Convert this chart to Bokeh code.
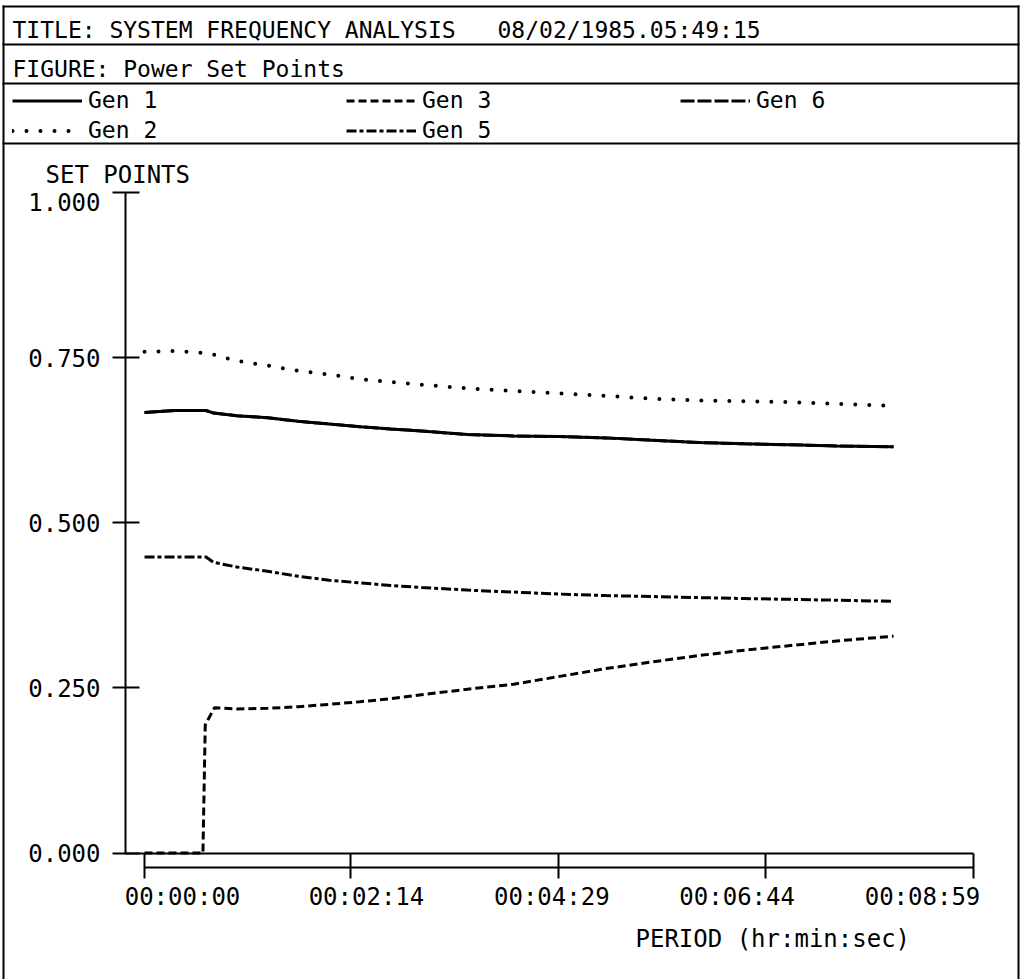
from bokeh.plotting import figure
from bokeh.models import (Range1d, LinearAxis, FixedTicker, Label, BoxAnnotation,
                          Legend, LegendItem)
from bokeh.embed import file_html
from bokeh.resources import INLINE

# ---------------- data ----------------
t_main = [0, 20, 40, 45, 60, 80, 100, 120, 140, 160, 180, 210, 240, 270, 300, 330, 360, 390, 420, 450, 487]
gen1 = [0.667, 0.670, 0.670, 0.666, 0.662, 0.659, 0.6535, 0.6495, 0.6455, 0.642, 0.639,
        0.6335, 0.6315, 0.6305, 0.6285, 0.625, 0.6215, 0.6195, 0.618, 0.6163, 0.615]
gen2 = [0.759, 0.760, 0.757, 0.7545, 0.745, 0.738, 0.730, 0.7245, 0.7175, 0.713, 0.709,
        0.7035, 0.6995, 0.6957, 0.692, 0.688, 0.685, 0.684, 0.6825, 0.680, 0.677]
gen5 = [0.448, 0.448, 0.448, 0.440, 0.433, 0.4265, 0.419, 0.413, 0.409, 0.405, 0.402,
        0.398, 0.395, 0.392, 0.3897, 0.3883, 0.3867, 0.3853, 0.384, 0.3827, 0.381]
gen6 = [0.667, 0.670, 0.670, 0.666, 0.662, 0.659, 0.6535, 0.6495, 0.6455, 0.642, 0.639,
        0.6335, 0.6315, 0.6305, 0.6285, 0.625, 0.6215, 0.6195, 0.618, 0.6163, 0.615]
t_gen3 = [0, 38, 39.5, 45.5, 60, 80, 100, 120, 140, 160, 180, 210, 240, 270, 300, 330, 360, 390, 420, 450, 487]
gen3 = [0.0, 0.0, 0.194, 0.220, 0.218, 0.219, 0.2215, 0.225, 0.229, 0.2335, 0.2395,
        0.248, 0.2555, 0.2674, 0.2792, 0.2893, 0.2988, 0.3071, 0.3141, 0.321, 0.3283]

x_ticks = [0, 134, 269, 404, 539]
x_tick_labels = ["00:00:00", "00:02:14", "00:04:29", "00:06:44", "00:08:59"]
y_ticks = [0.0, 0.25, 0.5, 0.75]
y_tick_labels = ["0.000", "0.250", "0.500", "0.750"]
y_top_tick = 1.0
y_top_label = "1.000"

title_text = "TITLE: SYSTEM FREQUENCY ANALYSIS"
date_text = "08/02/1985.05:49:15"
figure_text = "FIGURE: Power Set Points"
y_title = "SET POINTS"
x_title = "PERIOD (hr:min:sec)"

# ---------------- layout (page pixels) ----------------
W, H = 1024, 979
AX_L = 125          # page x of the y axis
AX_R = 973          # page x where the time axis ends
X0_PX = 144         # page x of t = 0
Y0_PX = 852.5       # page y of value 0
Y1_PX = 192         # page y of value 1
LOW_PX = 867        # page y of the lower time-axis line
FONT = "DejaVu Sans Mono"

px_per_s = (AX_R - X0_PX) / x_ticks[-1]
px_per_unit = Y0_PX - Y1_PX

def xd(px):            # page x -> data seconds
    return (px - X0_PX) / px_per_s

def yd(py):            # page y -> data value
    return (Y0_PX - py) / px_per_unit

def sy(py):            # page y -> screen units (from bottom of frame)
    return H - py

p = figure(width=W, height=H, output_backend="svg", toolbar_location=None,
           x_range=Range1d(xd(0), xd(W)), y_range=Range1d(yd(H), yd(0)),
           x_axis_location=None, y_axis_location=None,
           min_border_left=0, min_border_right=0, min_border_top=0, min_border_bottom=0)
p.outline_line_color = None
p.xgrid.visible = False
p.ygrid.visible = False
p.background_fill_color = "white"
p.border_fill_color = "white"

def style_ticks(ax, tin, tout):
    ax.major_tick_line_width = 2
    ax.major_tick_line_color = "black"
    ax.major_tick_in = tin
    ax.major_tick_out = tout
    ax.minor_tick_line_color = None

# ---------------- y axis ----------------
yax = LinearAxis(ticker=FixedTicker(ticks=y_ticks),
                 major_label_overrides={v: s for v, s in zip(y_ticks, y_tick_labels)},
                 bounds=(0, 1), fixed_location=xd(AX_L))
yax.axis_line_width = 2
yax.axis_line_color = "black"
style_ticks(yax, 14, 13)
yax.major_label_standoff = 12
yax.major_label_text_font = FONT
yax.major_label_text_font_size = "24px"
yax.major_label_text_color = "black"
p.add_layout(yax, "left")

# top tick of the y axis (its label sits just below the tick)
ytop = LinearAxis(ticker=FixedTicker(ticks=[y_top_tick]), fixed_location=xd(AX_L))
ytop.axis_line_color = None
style_ticks(ytop, 14, 13)
ytop.major_label_text_color = None
p.add_layout(ytop, "left")
p.add_layout(Label(x=AX_L - 25, y=y_top_tick, x_units="screen",
                   text=y_top_label, text_font=FONT, text_font_size="24px",
                   text_align="right", text_baseline="top", text_color="black"))

# ---------------- time axis: upper line (value 0) with ticks ----------------
xax = LinearAxis(ticker=FixedTicker(ticks=x_ticks), bounds=(xd(AX_L), x_ticks[-1]),
                 fixed_location=0)
xax.axis_line_width = 2
xax.axis_line_color = "black"
style_ticks(xax, 0, 25)
xax.major_label_text_color = None
p.add_layout(xax, "below")

# lower line of the time axis
xax2 = LinearAxis(ticker=FixedTicker(ticks=[]), bounds=(0, x_ticks[-1]),
                  fixed_location=yd(LOW_PX))
xax2.axis_line_width = 2
xax2.axis_line_color = "black"
xax2.major_tick_line_color = None
xax2.minor_tick_line_color = None
xax2.major_label_text_color = None
p.add_layout(xax2, "below")

# labels of the time axis: evenly spaced, slightly tighter than the ticks
LAB_FIRST, LAB_LAST = 182, 922
k = (LAB_LAST - LAB_FIRST) / (x_ticks[-1] - x_ticks[0])
lab_start = x_ticks[0] - LAB_FIRST / k
p.extra_x_ranges = {"lab": Range1d(lab_start, lab_start + W / k)}
xlab = LinearAxis(x_range_name="lab", ticker=FixedTicker(ticks=x_ticks),
                  major_label_overrides={v: s for v, s in zip(x_ticks, x_tick_labels)},
                  fixed_location=yd(LOW_PX))
xlab.axis_line_color = None
xlab.major_tick_line_color = None
xlab.minor_tick_line_color = None
xlab.major_tick_out = 0
xlab.major_tick_in = 0
xlab.major_label_standoff = 15
xlab.major_label_text_font = FONT
xlab.major_label_text_font_size = "24px"
xlab.major_label_text_color = "black"
p.add_layout(xlab, "below")

# ---------------- series ----------------
r6 = p.line(t_main, gen6, line_color="black", line_width=3, line_dash="14 3")
r1 = p.line(t_main, gen1, line_color="black", line_width=3)
r2 = p.line(t_main, gen2, line_color="black", line_width=4, line_dash="0 14", line_cap="round")
r5 = p.line(t_main, gen5, line_color="black", line_width=3, line_dash="10 3 4 3")
r3 = p.line(t_gen3, gen3, line_color="black", line_width=3, line_dash="8 4")

legend = Legend(items=[LegendItem(label="Gen 1", renderers=[r1]),
                       LegendItem(label="Gen 2", renderers=[r2]),
                       LegendItem(label="Gen 3", renderers=[r3]),
                       LegendItem(label="Gen 5", renderers=[r5]),
                       LegendItem(label="Gen 6", renderers=[r6])],
                orientation="vertical", nrows=2,
                location=(12, sy(143)),
                glyph_width=70, glyph_height=25, label_height=25,
                label_standoff=6, label_width=254, spacing=4,
                padding=0, margin=0,
                border_line_color=None, background_fill_alpha=0,
                label_text_font=FONT, label_text_font_size="23px",
                label_text_color="black")
p.add_layout(legend, "center")

# ---------------- header box and texts ----------------
def box(l, r, t, b):
    p.add_layout(BoxAnnotation(left=l, right=r, top=sy(t), bottom=sy(b),
                               left_units="screen", right_units="screen",
                               top_units="screen", bottom_units="screen",
                               fill_color="black", fill_alpha=1, line_color=None))

for yy in (6, 44, 83, 143):
    box(2, 1019, yy - 1, yy + 1)
for xx in (3, 1018):
    box(xx - 1, xx + 1, 5, H)

def label(text, x_page, y_page, size="23px", baseline="middle", align="left"):
    p.add_layout(Label(x=x_page, y=sy(y_page), x_units="screen", y_units="screen",
                       text=text, text_font=FONT, text_font_size=size,
                       text_baseline=baseline, text_align=align, text_color="black"))

label(title_text, 12, 29)
label(date_text, 497, 29)
label(figure_text, 12, 68)
label(y_title, 45, 174, size="24px")
label(x_title, 635, 938, size="24px")

open("out.html", "w").write(file_html(p, INLINE))
